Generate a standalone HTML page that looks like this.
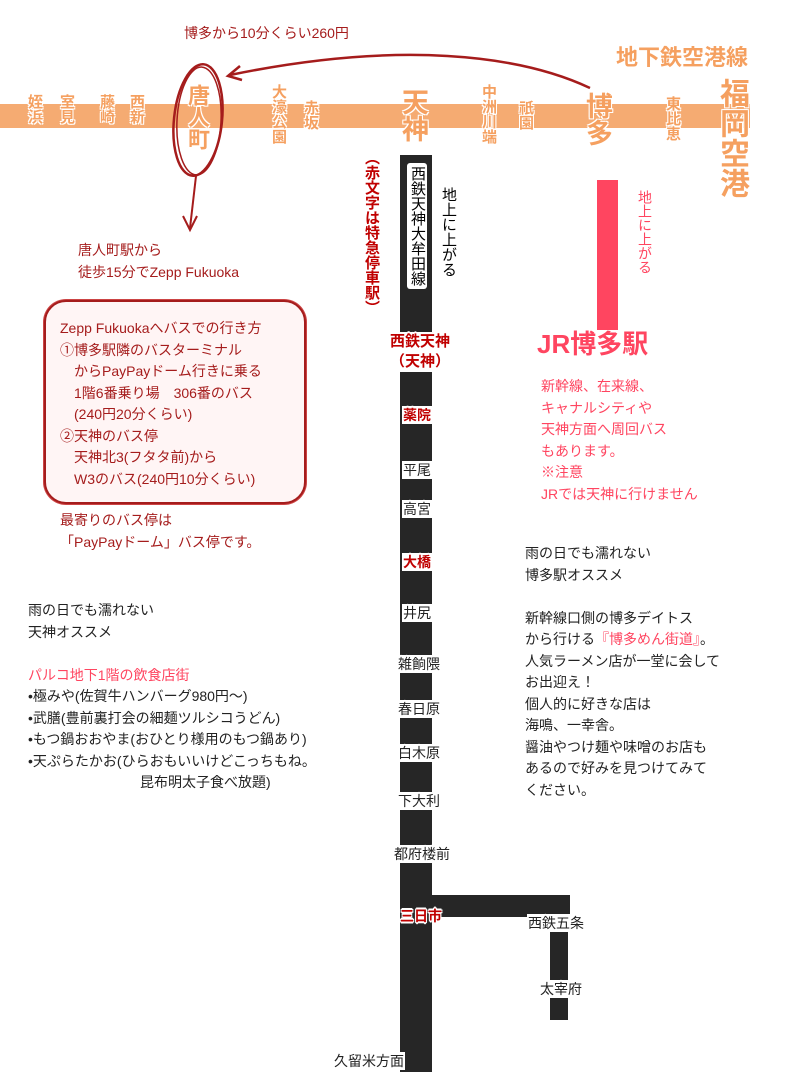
<!DOCTYPE html>
<html><head><meta charset="utf-8">
<style>
body{margin:0;width:800px;height:1088px;position:relative;background:#fff;overflow:hidden;font-family:"Liberation Sans","Noto Sans CJK JP",sans-serif;}
.a{position:absolute;white-space:nowrap;}
.v{writing-mode:vertical-rl;text-orientation:upright;}
.o{color:#f5a060;font-weight:bold;text-shadow:1px 1px 0 #fff,-1px -1px 0 #fff,1px -1px 0 #fff,-1px 1px 0 #fff;}
.s{font-size:14px;color:#222;text-shadow:0 0 2px #fff,1px 1px 0 #fff,-1px -1px 0 #fff,1px -1px 0 #fff,-1px 1px 0 #fff,0 2px 0 #fff,0 -2px 0 #fff;background:#fff;padding:0 1px;line-height:18px;}
.r{color:#c00000 !important;font-weight:bold;}
.t{font-size:14px;line-height:21.5px;color:#222;}
.dr{color:#a51c1c !important;}
.p{color:#ff4560 !important;}
</style></head><body>
<div class="a" style="left:0;top:104px;width:750px;height:24px;background:#f5ab72"></div>
<div class="a" style="left:400px;top:155px;width:32px;height:917px;background:#262626"></div>
<div class="a" style="left:432px;top:895px;width:138px;height:22px;background:#262626"></div>
<div class="a" style="left:550px;top:895px;width:18px;height:125px;background:#262626"></div>
<div class="a" style="left:597px;top:180px;width:21px;height:150px;background:#ff4560"></div>

<div class="a v o" style="left:26px;top:94px;font-size:15px;line-height:16px">姪浜</div>
<div class="a v o" style="left:58px;top:94px;font-size:15px;line-height:16px">室見</div>
<div class="a v o" style="left:98px;top:94px;font-size:15px;line-height:16px">藤崎</div>
<div class="a v o" style="left:128px;top:94px;font-size:15px;line-height:16px">西新</div>
<div class="a v o" style="left:185px;top:84px;font-size:22px;line-height:24px">唐人町</div>
<div class="a v o" style="left:270px;top:84px;font-size:15px;line-height:16px">大濠公園</div>
<div class="a v o" style="left:302px;top:100px;font-size:15px;line-height:16px">赤坂</div>
<div class="a v o" style="left:398px;top:88px;font-size:27px;line-height:30px">天神</div>
<div class="a v o" style="left:480px;top:84px;font-size:15px;line-height:16px">中洲川端</div>
<div class="a v o" style="left:517px;top:100px;font-size:15px;line-height:16px">祇園</div>
<div class="a v o" style="left:582px;top:92px;font-size:27px;line-height:30px">博多</div>
<div class="a v o" style="left:664px;top:96px;font-size:15px;line-height:16px">東比恵</div>
<div class="a v o" style="left:716px;top:78px;font-size:30px;line-height:31px">福岡空港</div>
<div class="a o" style="left:616px;top:40px;font-size:22px">地下鉄空港線</div>

<svg class="a" style="left:0;top:0" width="800" height="260">
<path d="M590 88 C520 55 400 40 230 75" fill="none" stroke="#a51c1c" stroke-width="2.5"/>
<path d="M240 66 L228 76 L242 80" fill="none" stroke="#a51c1c" stroke-width="2.5"/>
<ellipse cx="198" cy="120" rx="24" ry="56" fill="none" stroke="#a51c1c" stroke-width="2.5" transform="rotate(6 198 120)"/>
<ellipse cx="199" cy="121" rx="22" ry="54" fill="none" stroke="#a51c1c" stroke-width="1.5" transform="rotate(3 199 121)"/>
<path d="M196 176 L190 228" stroke="#a51c1c" stroke-width="2" fill="none"/>
<path d="M183 216 L190 230 L197 216" stroke="#a51c1c" stroke-width="2" fill="none"/>
</svg>
<div class="a dr" style="left:184px;top:23px;font-size:14px">博多から10分くらい260円</div>
<div class="a v r" style="left:363px;top:150px;font-size:15px;line-height:17px">（赤文字は特急停車駅）</div>

<div class="a t dr" style="left:78px;top:240px">唐人町駅から<br>徒歩15分でZepp Fukuoka</div>
<div class="a" style="left:44px;top:300px;width:258px;height:200px;border:2.5px solid #a51c1c;border-radius:22px;background:#fff5f5;box-shadow:0 0 0 1px #c44"></div>
<div class="a t dr" style="left:60px;top:318px">Zepp Fukuokaへバスでの行き方<br>①博多駅隣のバスターミナル<br>　からPayPayドーム行きに乗る<br>　1階6番乗り場　306番のバス<br>　(240円20分くらい)<br>②天神のバス停<br>　天神北3(フタタ前)から<br>　W3のバス(240円10分くらい)</div>
<div class="a t dr" style="left:60px;top:510px">最寄りのバス停は<br>「PayPayドーム」バス停です。</div>

<div class="a v" style="left:407px;top:163px;width:20px;background:#fff;font-size:15px;line-height:19px;padding:3px 0;text-align:center;border-radius:3px">西鉄天神大牟田線</div>
<div class="a v" style="left:440px;top:187px;font-size:15px;line-height:17px">地上に上がる</div>
<div class="a s r" style="left:389px;top:332px;font-size:15px;line-height:20px;text-align:center">西鉄天神<br>（天神）</div>
<div class="a s r" style="left:402px;top:406px">薬院</div>
<div class="a s" style="left:402px;top:461px">平尾</div>
<div class="a s" style="left:402px;top:500px">高宮</div>
<div class="a s r" style="left:402px;top:553px">大橋</div>
<div class="a s" style="left:402px;top:604px">井尻</div>
<div class="a s" style="left:397px;top:655px">雑餉隈</div>
<div class="a s" style="left:397px;top:700px">春日原</div>
<div class="a s" style="left:397px;top:744px">白木原</div>
<div class="a s" style="left:397px;top:792px">下大利</div>
<div class="a s" style="left:393px;top:845px">都府楼前</div>
<div class="a s r" style="left:399px;top:907px;background:none">三日市</div>
<div class="a s" style="left:527px;top:914px">西鉄五条</div>
<div class="a s" style="left:539px;top:980px">太宰府</div>
<div class="a s" style="left:333px;top:1052px">久留米方面</div>

<div class="a v p" style="left:637px;top:190px;font-size:14px;line-height:16px">地上に上がる</div>
<div class="a p" style="left:537px;top:324px;font-size:26px;font-weight:bold">JR博多駅</div>
<div class="a t p" style="left:541px;top:376px">新幹線、在来線、<br>キャナルシティや<br>天神方面へ周回バス<br>もあります。<br>※注意<br>JRでは天神に行けません</div>
<div class="a t" style="left:525px;top:543px">雨の日でも濡れない<br>博多駅オススメ<br><br>新幹線口側の博多デイトス<br>から行ける<span class="p">『博多めん街道』</span>。<br>人気ラーメン店が一堂に会して<br>お出迎え！<br>個人的に好きな店は<br>海鳴、一幸舎。<br>醤油やつけ麺や味噌のお店も<br>あるので好みを見つけてみて<br>ください。</div>

<div class="a t" style="left:28px;top:600px">雨の日でも濡れない<br>天神オススメ<br><br><span class="p">パルコ地下1階の飲食店街</span><br>•極みや(佐賀牛ハンバーグ980円～)<br>•武膳(豊前裏打会の細麺ツルシコうどん)<br>•もつ鍋おおやま(おひとり様用のもつ鍋あり)<br>•天ぷらたかお(ひらおもいいけどこっちもね。<br>　　　　　　　　昆布明太子食べ放題)</div>
</body></html>
